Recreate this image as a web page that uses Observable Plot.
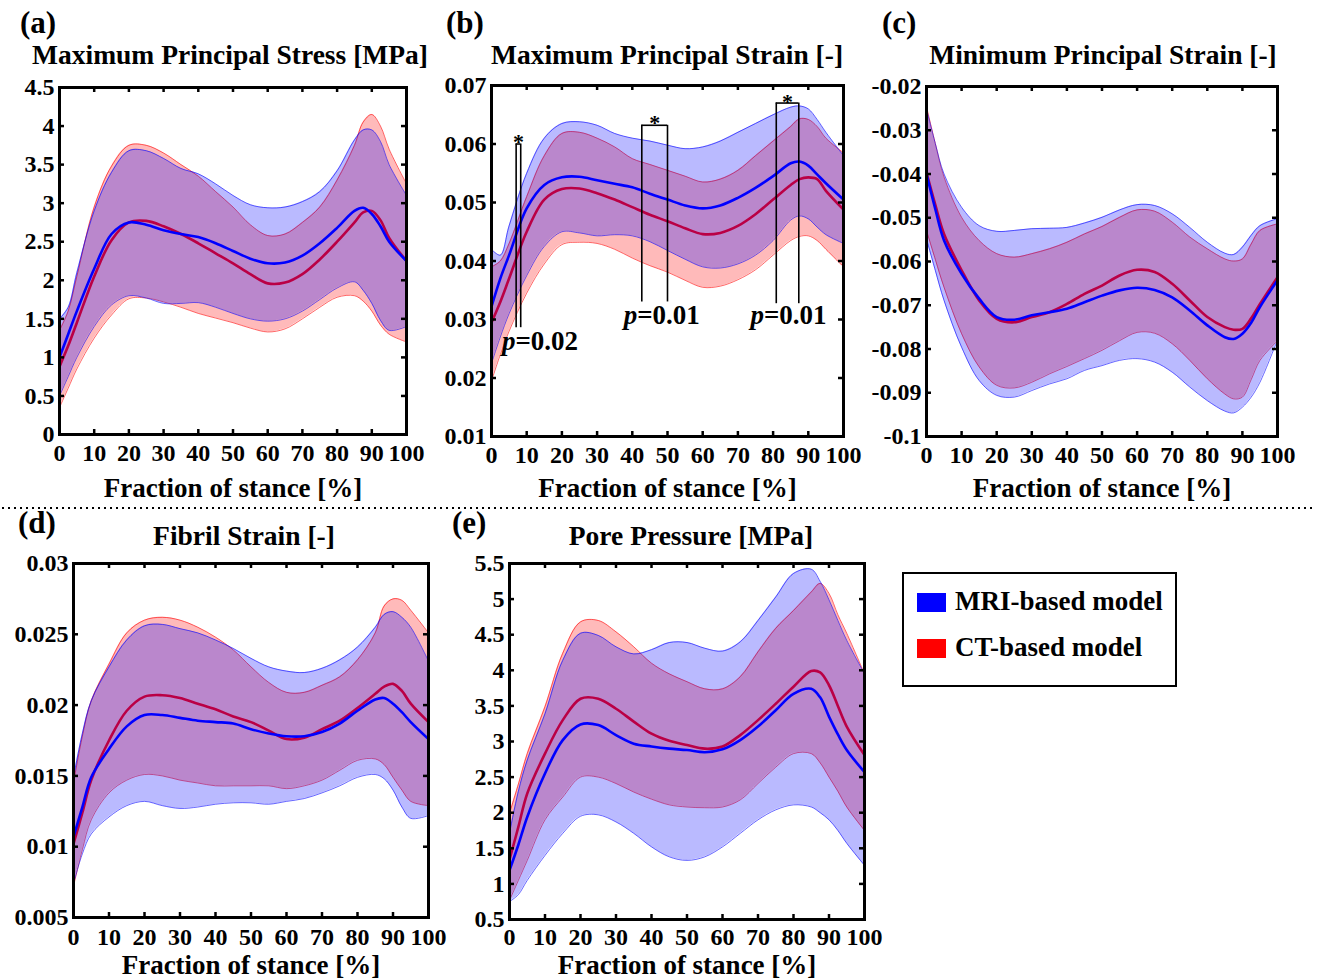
<!DOCTYPE html>
<html><head><meta charset="utf-8">
<script src="https://cdn.jsdelivr.net/npm/d3@7"></script>
<script src="https://cdn.jsdelivr.net/npm/@observablehq/plot@0.6"></script>
<style>
body{margin:0;background:#fff;}
#fig{position:relative;width:1317px;height:979px;overflow:hidden;background:#fff;font-family:'Liberation Serif','Times New Roman',serif;font-weight:bold;color:#000;}
.abs{position:absolute;white-space:nowrap;}
.letter{font-size:31px;line-height:31px;}
.title{font-size:27.5px;line-height:27.5px;transform:translateX(-50%);}
.legend{position:absolute;box-sizing:border-box;border:2.5px solid #000;background:#fff;}
.sw{position:absolute;width:29px;height:19px;}
.lt{position:absolute;font-size:27px;line-height:27px;}
</style></head>
<body><div id="fig"></div>
<script>
// ---------- data ----------
const stance = [0,2.5,5,10,15,20,25,30,35,40,45,50,55,60,65,70,75,80,85,87.5,90,92.5,95,100];
const xTicks = [0,10,20,30,40,50,60,70,80,90,100];
const xLabel = "Fraction of stance [%]";
const seriesNames = ["MRI-based model", "CT-based model"];

// (a) Maximum Principal Stress [MPa]
const aMriMean = [1.0,1.3,1.6,2.15,2.6,2.75,2.72,2.65,2.6,2.56,2.48,2.38,2.28,2.22,2.23,2.32,2.48,2.68,2.9,2.94,2.86,2.7,2.5,2.25];
const aMriLo   = [0.5,0.75,1.0,1.4,1.68,1.8,1.77,1.7,1.7,1.71,1.65,1.57,1.5,1.47,1.5,1.6,1.75,1.9,1.98,1.87,1.7,1.48,1.35,1.4];
const aMriHi   = [1.5,1.65,2.1,2.9,3.4,3.68,3.68,3.58,3.45,3.38,3.25,3.1,2.98,2.94,2.95,3.02,3.15,3.42,3.82,3.95,3.95,3.8,3.5,3.1];
const aCtMean  = [0.88,1.15,1.45,2.05,2.52,2.75,2.77,2.7,2.6,2.48,2.35,2.22,2.08,1.96,1.97,2.08,2.27,2.5,2.75,2.88,2.9,2.78,2.55,2.25];
const aCtLo    = [0.35,0.6,0.85,1.25,1.55,1.76,1.77,1.72,1.65,1.57,1.51,1.45,1.38,1.33,1.37,1.5,1.65,1.78,1.8,1.73,1.6,1.42,1.3,1.2];
const aCtHi    = [1.35,1.6,2.05,2.95,3.48,3.75,3.75,3.65,3.5,3.35,3.15,2.95,2.72,2.58,2.6,2.75,2.95,3.3,3.75,4.05,4.15,4.0,3.7,3.25];
const aYTicks  = [0,0.5,1,1.5,2,2.5,3,3.5,4,4.5];
const aYLabels = ["0","0.5","1","1.5","2","2.5","3","3.5","4","4.5"];

// (b) Maximum Principal Strain [-]
const bMriMean = [0.0322,0.037,0.041,0.049,0.053,0.0543,0.0544,0.0538,0.0532,0.0526,0.0515,0.0505,0.0495,0.049,0.0495,0.0508,0.0525,0.0545,0.0567,0.057,0.0563,0.0548,0.0533,0.0505];
const bMriLo   = [0.0225,0.027,0.031,0.0375,0.0425,0.045,0.0448,0.0443,0.0445,0.0443,0.0433,0.0418,0.0403,0.039,0.0388,0.0395,0.041,0.0435,0.047,0.0477,0.0472,0.0458,0.0445,0.043];
const bMriHi   = [0.042,0.041,0.046,0.055,0.061,0.0635,0.0638,0.0632,0.0618,0.061,0.0605,0.0598,0.0592,0.0595,0.0605,0.062,0.0635,0.065,0.0663,0.0665,0.066,0.0642,0.062,0.058];
const bCtMean  = [0.0295,0.033,0.037,0.045,0.0505,0.0523,0.0524,0.0516,0.0505,0.0492,0.0479,0.0468,0.0456,0.0446,0.0448,0.046,0.048,0.0505,0.053,0.054,0.0543,0.054,0.052,0.0488];
const bCtLo    = [0.0195,0.024,0.028,0.0345,0.0395,0.0428,0.0432,0.043,0.042,0.0405,0.0392,0.0381,0.0367,0.0355,0.0357,0.0368,0.0385,0.041,0.0435,0.0442,0.0443,0.0435,0.042,0.039];
const bCtHi    = [0.039,0.04,0.043,0.051,0.058,0.0618,0.062,0.061,0.0595,0.0575,0.0565,0.0555,0.0545,0.0535,0.054,0.0555,0.058,0.0605,0.063,0.0643,0.0642,0.063,0.061,0.0585];
const bYTicks  = [0.01,0.02,0.03,0.04,0.05,0.06,0.07];
const bYLabels = ["0.01","0.02","0.03","0.04","0.05","0.06","0.07"];
// significance brackets in (b)
const sigX1     = [7.0, 42.7, 80.9];
const sigX2     = [8.3, 50.0, 87.3];
const sigTop    = [0.060, 0.0632, 0.067];
const sigBottom = [0.0286, 0.033, 0.0327];
const sigStarY  = [0.0612, 0.0644, 0.068];
const sigPX     = [6.8, 41.4, 77.4];
const sigPY     = [0.0263, 0.0307, 0.0307];
const sigPText  = ["=0.02", "=0.01", "=0.01"];

// (c) Minimum Principal Strain [-]
const cMriMean = [-0.040,-0.048,-0.0552,-0.0628,-0.0685,-0.0727,-0.0733,-0.0723,-0.0716,-0.0708,-0.0693,-0.0678,-0.0666,-0.066,-0.0665,-0.0682,-0.0712,-0.0746,-0.0773,-0.0777,-0.0765,-0.074,-0.0704,-0.0643];
const cMriLo   = [-0.0548,-0.062,-0.0689,-0.0796,-0.0872,-0.0906,-0.091,-0.0895,-0.088,-0.0868,-0.0849,-0.0838,-0.0826,-0.0822,-0.083,-0.0853,-0.0887,-0.0918,-0.0942,-0.0946,-0.0933,-0.091,-0.0876,-0.0779];
const cMriHi   = [-0.0251,-0.033,-0.040,-0.0476,-0.0518,-0.0531,-0.0529,-0.0525,-0.0524,-0.0522,-0.0512,-0.0499,-0.0482,-0.047,-0.0472,-0.0491,-0.0522,-0.0556,-0.0581,-0.0584,-0.0567,-0.054,-0.0518,-0.0502];
const cCtMean  = [-0.0396,-0.047,-0.0537,-0.062,-0.0689,-0.0731,-0.0739,-0.0727,-0.0716,-0.0697,-0.0674,-0.0655,-0.0632,-0.0619,-0.0624,-0.0651,-0.0689,-0.0727,-0.075,-0.0756,-0.0754,-0.073,-0.0697,-0.0636];
const cCtLo    = [-0.0529,-0.0595,-0.0659,-0.0765,-0.0841,-0.0883,-0.0889,-0.0876,-0.0857,-0.084,-0.0822,-0.0803,-0.0781,-0.0762,-0.0764,-0.0788,-0.0826,-0.0868,-0.0903,-0.0914,-0.091,-0.087,-0.0826,-0.0781];
const cCtHi    = [-0.0246,-0.033,-0.0407,-0.0499,-0.0552,-0.0582,-0.059,-0.0582,-0.0571,-0.0556,-0.0537,-0.052,-0.0499,-0.0482,-0.0485,-0.051,-0.0544,-0.0571,-0.0594,-0.0599,-0.0594,-0.056,-0.0529,-0.0514];
const cYTicks  = [-0.1,-0.09,-0.08,-0.07,-0.06,-0.05,-0.04,-0.03,-0.02];
const cYLabels = ["-0.1","-0.09","-0.08","-0.07","-0.06","-0.05","-0.04","-0.03","-0.02"];

// (d) Fibril Strain [-]
const dMriMean = [0.0107,0.0128,0.0149,0.0169,0.0185,0.0193,0.0193,0.0191,0.0189,0.0188,0.0187,0.0183,0.018,0.0178,0.0178,0.0181,0.0187,0.0196,0.0204,0.0205,0.0201,0.0195,0.0188,0.0176];
const dMriLo   = [0.0074,0.0095,0.0109,0.0121,0.0129,0.0132,0.0129,0.0127,0.0128,0.013,0.0131,0.0131,0.013,0.0132,0.0134,0.0138,0.0143,0.0149,0.0151,0.0148,0.014,0.0128,0.012,0.0122];
const dMriHi   = [0.0149,0.018,0.0203,0.0227,0.0246,0.0256,0.0257,0.0254,0.0251,0.0246,0.024,0.0233,0.0227,0.0224,0.0223,0.0226,0.0232,0.0241,0.0255,0.0264,0.0266,0.0262,0.0255,0.0231];
const dCtMean  = [0.0102,0.0124,0.0147,0.0175,0.0196,0.0206,0.0207,0.0205,0.0201,0.0197,0.0192,0.0188,0.0182,0.0176,0.0177,0.0183,0.0189,0.0198,0.0208,0.0213,0.0215,0.021,0.0201,0.0188];
const dCtLo    = [0.0072,0.0098,0.0119,0.0138,0.0147,0.0151,0.015,0.0147,0.0145,0.0143,0.0143,0.0143,0.0143,0.0141,0.0143,0.0147,0.0154,0.0161,0.0162,0.0158,0.0149,0.014,0.0132,0.0129];
const dCtHi    = [0.0145,0.0178,0.0203,0.0229,0.0251,0.026,0.0262,0.026,0.0255,0.0248,0.0239,0.0227,0.0216,0.0209,0.0209,0.0214,0.022,0.0232,0.0251,0.027,0.0275,0.0274,0.0267,0.0251];
const dYTicks  = [0.005,0.01,0.015,0.02,0.025,0.03];
const dYLabels = ["0.005","0.01","0.015","0.02","0.025","0.03"];

// (e) Pore Pressure [MPa]
const eMriMean = [1.19,1.55,1.94,2.55,3.02,3.24,3.23,3.09,2.97,2.93,2.9,2.88,2.85,2.89,3.02,3.21,3.44,3.67,3.74,3.62,3.35,3.1,2.88,2.57];
const eMriLo   = [0.75,0.85,1.05,1.4,1.71,1.95,1.97,1.87,1.71,1.52,1.38,1.33,1.38,1.52,1.71,1.9,2.04,2.11,2.08,2.0,1.9,1.75,1.57,1.26];
const eMriHi   = [1.71,2.3,2.74,3.39,4.14,4.52,4.49,4.33,4.23,4.29,4.39,4.39,4.31,4.27,4.4,4.7,5.03,5.36,5.42,5.25,4.99,4.7,4.42,3.95];
const eCtMean  = [1.34,1.8,2.27,2.83,3.3,3.6,3.6,3.46,3.28,3.11,3.01,2.95,2.9,2.93,3.09,3.3,3.53,3.77,3.99,3.97,3.79,3.5,3.21,2.81];
const eCtLo    = [0.77,1.05,1.33,1.9,2.22,2.5,2.5,2.41,2.29,2.19,2.11,2.08,2.07,2.08,2.18,2.41,2.64,2.83,2.83,2.7,2.5,2.3,2.08,1.75];
const eCtHi    = [1.99,2.4,2.83,3.49,4.24,4.68,4.7,4.54,4.33,4.1,3.95,3.84,3.74,3.74,3.91,4.26,4.59,4.84,5.1,5.22,5.08,4.78,4.52,3.95];
const eYTicks  = [0.5,1,1.5,2,2.5,3,3.5,4,4.5,5,5.5];
const eYLabels = ["0.5","1","1.5","2","2.5","3","3.5","4","4.5","5","5.5"];

// ---------- drawing ----------
const BLUE = "#0000ff", RED = "#ff0000";
const FONT = "'Liberation Serif','Times New Roman',serif";
const fig = document.getElementById("fig");

function rowsOf(mm, ml, mh, cm, cl, ch) {
  return stance.map((x, i) => ({x, mm: mm[i], ml: ml[i], mh: mh[i], cm: cm[i], cl: cl[i], ch: ch[i]}));
}

function panel(cfg) {
  const f = cfg.frame;
  const mL = Math.min(80, f.L), mR = 20, mT = 20, mB = 80;
  const iw = f.R - f.L, ih = f.B - f.T;
  const labelMap = new Map(cfg.yTicks.map((t, i) => [t, cfg.yLabels[i]]));
  const rows = cfg.rows;
  const curve = "catmull-rom";
  const plot = Plot.plot({
    width: iw + mL + mR, height: ih + mT + mB,
    marginLeft: mL, marginRight: mR, marginTop: mT, marginBottom: mB,
    style: {fontFamily: FONT, fontWeight: "bold", fontSize: "24px", background: "transparent", overflow: "visible", color: "#000"},
    x: {domain: [0, 100]},
    y: {domain: cfg.yDomain},
    marks: [
      Plot.areaY(rows, {x: "x", y1: "cl", y2: "ch", fill: RED, fillOpacity: 0.27, curve}),
      Plot.line(rows, {x: "x", y: "cl", stroke: RED, strokeWidth: 0.8, strokeOpacity: 0.75, curve}),
      Plot.line(rows, {x: "x", y: "ch", stroke: RED, strokeWidth: 0.8, strokeOpacity: 0.75, curve}),
      Plot.line(rows, {x: "x", y: "cm", stroke: RED, strokeWidth: 2.6, curve}),
      Plot.areaY(rows, {x: "x", y1: "ml", y2: "mh", fill: BLUE, fillOpacity: 0.27, curve}),
      Plot.line(rows, {x: "x", y: "ml", stroke: BLUE, strokeWidth: 0.8, strokeOpacity: 0.75, curve}),
      Plot.line(rows, {x: "x", y: "mh", stroke: BLUE, strokeWidth: 0.8, strokeOpacity: 0.75, curve}),
      Plot.line(rows, {x: "x", y: "mm", stroke: BLUE, strokeWidth: 2.6, curve}),
      ...(cfg.extra || []),
      Plot.frame({stroke: "#000", strokeWidth: 3}),
      Plot.tickX(xTicks, {x: d => d, insetTop: ih - 5, stroke: "#000", strokeWidth: 2.5}),
      Plot.tickX(xTicks, {x: d => d, insetBottom: ih - 5, stroke: "#000", strokeWidth: 2.5}),
      Plot.tickY(cfg.yTicks, {y: d => d, insetRight: iw - 5, stroke: "#000", strokeWidth: 2.5}),
      Plot.tickY(cfg.yTicks, {y: d => d, insetLeft: iw - 5, stroke: "#000", strokeWidth: 2.5}),
      Plot.axisX({ticks: xTicks, tickSize: 0, tickPadding: cfg.xPad, tickFormat: d => String(d), label: null, fontSize: 24}),
      Plot.axisY({ticks: cfg.yTicks, tickSize: 0, tickPadding: 5, tickFormat: d => labelMap.get(d), label: null, fontSize: 24}),
      Plot.text([xLabel], {text: d => d, frameAnchor: "bottom", lineAnchor: "middle", dy: cfg.labelDy, fontSize: 27})
    ]
  });
  plot.style.position = "absolute";
  plot.style.left = (f.L - mL) + "px";
  plot.style.top = (f.T - mT) + "px";
  plot.style.maxWidth = "none";
  fig.appendChild(plot);

  const letter = document.createElement("div");
  letter.className = "abs letter";
  letter.textContent = cfg.letter;
  letter.style.left = cfg.letterPos[0] + "px";
  letter.style.top = cfg.letterPos[1] + "px";
  fig.appendChild(letter);

  const title = document.createElement("div");
  title.className = "abs title";
  title.textContent = cfg.title;
  title.style.left = cfg.titlePos[0] + "px";
  title.style.top = cfg.titlePos[1] + "px";
  fig.appendChild(title);
}

const sig = sigX1.map((x1, i) => ({x1, x2: sigX2[i], top: sigTop[i], bottom: sigBottom[i], star: sigStarY[i], px: sigPX[i], py: sigPY[i], p: sigPText[i]}));
const sigMarks = [
  Plot.ruleX(sig, {x: "x1", y1: "bottom", y2: "top", stroke: "#000", strokeWidth: 1.6}),
  Plot.ruleX(sig, {x: "x2", y1: "bottom", y2: "top", stroke: "#000", strokeWidth: 1.6}),
  Plot.ruleY(sig, {y: "top", x1: "x1", x2: "x2", stroke: "#000", strokeWidth: 1.6}),
  Plot.text(sig, {x: d => (d.x1 + d.x2) / 2, y: "star", text: () => "*", fontSize: 22, dy: 5}),
  Plot.text(sig, {x: "px", y: "py", text: () => "p", fontStyle: "italic", textAnchor: "end", fontSize: 27}),
  Plot.text(sig, {x: "px", y: "py", text: "p", textAnchor: "start", fontSize: 27})
];

panel({letter: "(a)", letterPos: [20, 7], title: "Maximum Principal Stress [MPa]", titlePos: [230, 41],
  frame: {L: 59, R: 406, T: 87, B: 434}, yDomain: [0, 4.5], yTicks: aYTicks, yLabels: aYLabels,
  rows: rowsOf(aMriMean, aMriLo, aMriHi, aCtMean, aCtLo, aCtHi), xPad: 9, labelDy: 54});
panel({letter: "(b)", letterPos: [446, 7], title: "Maximum Principal Strain [-]", titlePos: [667, 41],
  frame: {L: 491, R: 843, T: 85, B: 436}, yDomain: [0.01, 0.07], yTicks: bYTicks, yLabels: bYLabels,
  rows: rowsOf(bMriMean, bMriLo, bMriHi, bCtMean, bCtLo, bCtHi), xPad: 9, labelDy: 52, extra: sigMarks});
panel({letter: "(c)", letterPos: [882, 7], title: "Minimum Principal Strain [-]", titlePos: [1103, 41],
  frame: {L: 926, R: 1277, T: 86, B: 436}, yDomain: [-0.1, -0.02], yTicks: cYTicks, yLabels: cYLabels,
  rows: rowsOf(cMriMean, cMriLo, cMriHi, cCtMean, cCtLo, cCtHi), xPad: 9, labelDy: 52});
panel({letter: "(d)", letterPos: [18, 507], title: "Fibril Strain [-]", titlePos: [244, 522],
  frame: {L: 73, R: 428, T: 563, B: 917}, yDomain: [0.005, 0.03], yTicks: dYTicks, yLabels: dYLabels,
  rows: rowsOf(dMriMean, dMriLo, dMriHi, dCtMean, dCtLo, dCtHi), xPad: 10, labelDy: 48});
panel({letter: "(e)", letterPos: [452, 507], title: "Pore Pressure [MPa]", titlePos: [691, 522],
  frame: {L: 509, R: 864, T: 563, B: 919}, yDomain: [0.5, 5.5], yTicks: eYTicks, yLabels: eYLabels,
  rows: rowsOf(eMriMean, eMriLo, eMriHi, eCtMean, eCtLo, eCtHi), xPad: 8, labelDy: 46});

// dotted separator
const sepNS = "http://www.w3.org/2000/svg";
const sep = document.createElementNS(sepNS, "svg");
sep.setAttribute("width", 1317); sep.setAttribute("height", 6);
sep.style.position = "absolute"; sep.style.left = "0px"; sep.style.top = "505px";
const ln = document.createElementNS(sepNS, "line");
ln.setAttribute("x1", 2); ln.setAttribute("x2", 1312); ln.setAttribute("y1", 3); ln.setAttribute("y2", 3);
ln.setAttribute("stroke", "#000"); ln.setAttribute("stroke-width", 2); ln.setAttribute("stroke-dasharray", "2 4");
sep.appendChild(ln); fig.appendChild(sep);

// legend
const lg = document.createElement("div");
lg.className = "legend";
lg.style.left = "902px"; lg.style.top = "572px"; lg.style.width = "275px"; lg.style.height = "115px";
[[BLUE, seriesNames[0], 19], [RED, seriesNames[1], 65]].forEach(([c, name, y]) => {
  const s = document.createElement("div"); s.className = "sw"; s.style.background = c;
  s.style.left = "13px"; s.style.top = y + "px"; lg.appendChild(s);
  const t = document.createElement("div"); t.className = "lt"; t.textContent = name;
  t.style.left = "51px"; t.style.top = (y - 5) + "px"; lg.appendChild(t);
});
fig.appendChild(lg);
</script></body></html>
